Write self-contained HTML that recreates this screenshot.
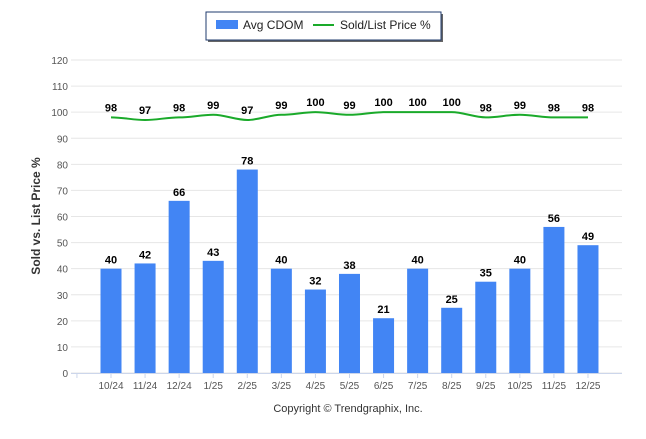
<!DOCTYPE html>
<html><head><meta charset="utf-8"><style>
body{margin:0;background:#fff;font-family:"Liberation Sans",Arial,sans-serif}
svg text{font-family:"Liberation Sans",Arial,sans-serif}
</style></head><body>
<svg id="c" width="646" height="434" xmlns="http://www.w3.org/2000/svg">
<g>
<rect x="208" y="14" width="235" height="28" fill="#666"/>
<rect x="206" y="12" width="235" height="28" fill="#fff" stroke="#1f3b6e" stroke-width="1"/>
<rect x="216" y="20" width="22" height="9" fill="#4285f4"/>
<text x="243" y="29" font-size="12" fill="#222">Avg CDOM</text>
<line x1="313" y1="25" x2="334" y2="25" stroke="#1aaa2a" stroke-width="2"/>
<text x="340" y="29" font-size="12" fill="#222">Sold/List Price %</text>
</g>
<text transform="translate(40,216) rotate(-90)" text-anchor="middle" font-size="12" font-weight="bold" fill="#333">Sold vs. List Price %</text>
<text x="348" y="412" text-anchor="middle" font-size="11" fill="#333">Copyright © Trendgraphix, Inc.</text>
<g id="grid"></g><g id="bars"></g><g id="line"></g><g id="labels"></g>
</svg>
<script>
const categories=["10/24","11/24","12/24","1/25","2/25","3/25","4/25","5/25","6/25","7/25","8/25","9/25","10/25","11/25","12/25"];
const cdom=[40,42,66,43,78,40,32,38,21,40,25,35,40,56,49];
const price=[98,97,98,99,97,99,100,99,100,100,100,98,99,98,98];
const yTicks=[0,10,20,30,40,50,60,70,80,90,100,110,120];
const NS="http://www.w3.org/2000/svg";
const y0=373,yTop=60,yMax=120,left=71,right=622,step=34.07,first=111;
function yS(v){return y0-(v/yMax)*(y0-yTop);}
function xS(i){return first+i*step;}
function mk(t,a,p,txt){const e=document.createElementNS(NS,t);for(const k in a)e.setAttribute(k,a[k]);if(txt!==undefined)e.textContent=txt;document.getElementById(p).appendChild(e);return e;}
yTicks.forEach(v=>{
  const g=mk('line',{x1:left,x2:right,y1:yS(v),y2:yS(v),stroke:'#e6e6e6','stroke-width':1},'grid');
  
  
  const t=mk('text',{x:68,y:yS(v)+4,'text-anchor':'end','font-size':10,fill:'#555'},'grid',v);
  
  
});
const ax=mk('line',{x1:left,x2:right,y1:y0+0.5,y2:y0+0.5,stroke:'#ccd6eb'},'grid');


for(let i=0;i<=categories.length;i++){
  const tk=mk('line',{x1:xS(i)-step,x2:xS(i)-step,y1:y0,y2:y0+5,stroke:'#ccd6eb'},'grid');
  
  
}
categories.forEach((c,i)=>{
  const t=mk('text',{x:xS(i),y:y0+16,'text-anchor':'middle','font-size':10,fill:'#555'},'labels',c);
  
  
});
cdom.forEach((v,i)=>{
  const b=mk('rect',{x:xS(i)-10.5,y:yS(v),width:21,height:y0-yS(v),fill:'#4285f4'},'bars');
  
  
  const t=mk('text',{x:xS(i),y:yS(v)-5,'text-anchor':'middle','font-size':11,'font-weight':'bold',fill:'#000'},'labels',v);
  
  
});
let d='';
price.forEach((v,i)=>{
  const x=xS(i),y=yS(v);
  if(i===0)d+='M'+x+' '+y;
  else{const px=xS(i-1),py=yS(price[i-1]);d+=' C'+(px+step/3)+' '+py+' '+(x-step/3)+' '+y+' '+x+' '+y;}
  const t=mk('text',{x:x,y:y-6,'text-anchor':'middle','font-size':11,'font-weight':'bold',fill:'#000'},'labels',v);
  
  
});
const l=mk('path',{d:d,fill:'none',stroke:'#1aaa2a','stroke-width':2},'line');


</script>
</body></html>
